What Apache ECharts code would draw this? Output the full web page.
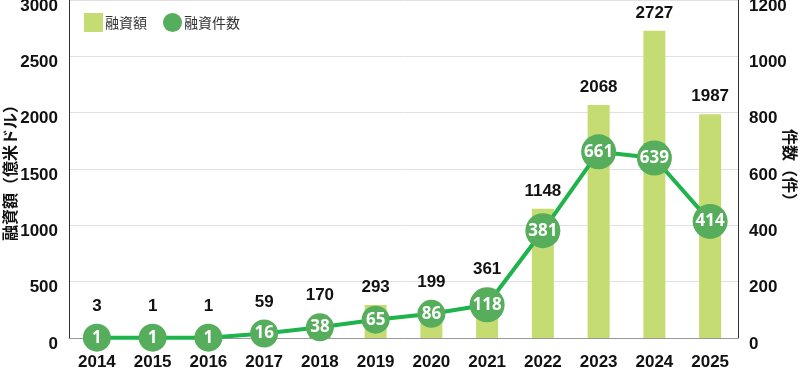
<!DOCTYPE html>
<html><head><meta charset="utf-8">
<script src="https://cdn.jsdelivr.net/npm/echarts@6/dist/echarts.min.js"></script>
<style>html,body{margin:0;padding:0;background:#fff}#c{width:800px;height:373px}</style>
</head><body><div id="c"></div>
<script>
const years = ['2014','2015','2016','2017','2018','2019','2020','2021','2022','2023','2024','2025'];
const amount = [3,1,1,59,170,293,199,361,1148,2068,2727,1987];
const count = [1,1,1,16,38,65,86,118,381,661,639,414];
const leftTicks = {min:0,max:3000,interval:500};
const rightTicks = {min:0,max:1200,interval:200};

const FONT = '"Liberation Sans", Arial, sans-serif';
const JP = '"Noto Sans CJK JP", sans-serif';
const symSize = v => v >= 100 ? 35 : 28;
const plain = v => String(v);

const chart = echarts.init(document.getElementById('c'), null, {renderer:'canvas'});
const axisLabelY = {color:'#111', fontSize:17, fontWeight:'bold', fontFamily:FONT, verticalAlign:'top', lineHeight:12, margin:11, formatter:plain};
const option = {
  animation:false,
  grid:{left:69,right:62,top:0,bottom:35, containLabel:false, outerBoundsMode:'none'},
  legend:{
    left:79, top:8, itemWidth:19, itemHeight:19, itemGap:16,
    textStyle:{fontSize:14, color:'#333', fontFamily:JP, padding:[0,0,0,-3]},
    data:[{name:'融資額', icon:'rect'},{name:'融資件数', icon:'circle'}]
  },
  xAxis:{
    type:'category', data:years, boundaryGap:true,
    axisLine:{lineStyle:{color:'#999', width:1}},
    axisTick:{inside:true, length:5, lineStyle:{color:'#555'}},
    axisLabel:{color:'#111', fontSize:17, fontWeight:'bold', fontFamily:FONT, margin:16}
  },
  yAxis:[
    {type:'value', min:leftTicks.min, max:leftTicks.max, interval:leftTicks.interval,
     name:'融資額（億米ドル）', nameLocation:'middle', nameGap:51, nameMoveOverlap:false,
     nameTextStyle:{fontSize:16, fontWeight:'bold', color:'#111', fontFamily:JP},
     axisLine:{show:true, lineStyle:{color:'#333', width:1}},
     axisTick:{show:false},
     splitLine:{lineStyle:{color:'#e0e0e0', width:1}},
     axisLabel:axisLabelY},
    {type:'value', min:rightTicks.min, max:rightTicks.max, interval:rightTicks.interval,
     name:'件数（件）', nameLocation:'middle', nameGap:44, nameRotate:-90, nameMoveOverlap:false,
     nameTextStyle:{fontSize:16, fontWeight:'bold', color:'#111', fontFamily:JP},
     axisLine:{show:true, lineStyle:{color:'#333', width:1}},
     axisTick:{show:false},
     splitLine:{show:false},
     axisLabel:axisLabelY}
  ],
  series:[
    {name:'融資額', type:'bar', data:amount, barWidth:22, yAxisIndex:0,
     itemStyle:{color:'#c5dc72'},
     label:{show:true, position:'top', distance:9, color:'#111', fontSize:17, fontWeight:'bold', fontFamily:FONT}},
    {name:'融資件数', type:'line', data:count, yAxisIndex:1, z:5,
     symbol:'circle', symbolSize:symSize,
     lineStyle:{color:'#1fb34c', width:4},
     itemStyle:{color:'#56ad5c'},
     label:{show:true, position:'inside', color:'#fff', fontSize:17, fontWeight:'bold', fontFamily:'"Noto Sans", sans-serif'}}
  ]
};
chart.setOption(option);

// lift bar labels above the circle when the circle sits higher than the bar top
const barData = amount.map((v,i) => {
  const barTop = chart.convertToPixel({yAxisIndex:0}, v);
  const circTop = chart.convertToPixel({yAxisIndex:1}, count[i]) - symSize(count[i])/2;
  const top = Math.min(barTop, circTop);
  return {value:v, label:{offset:[0, top - barTop]}};
});
chart.setOption({series:[{data:barData},{}]});
</script></body></html>
